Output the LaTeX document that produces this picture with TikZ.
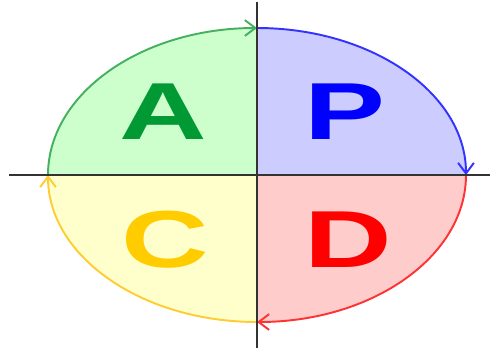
\documentclass[tikz,border=0pt]{standalone}
\usepackage{fontspec}
\usepackage{graphicx}
\setsansfont{Liberation Sans}
\usetikzlibrary{arrows.meta}
\definecolor{ActFill}{HTML}{CCFFCC}
\definecolor{ActLine}{HTML}{44B060}
\definecolor{ActText}{HTML}{009933}
\definecolor{PlanFill}{HTML}{CCCCFF}
\definecolor{PlanLine}{HTML}{3333FF}
\definecolor{PlanText}{HTML}{0000FF}
\definecolor{DoFill}{HTML}{FFCCCC}
\definecolor{DoLine}{HTML}{FF3333}
\definecolor{DoText}{HTML}{FF0000}
\definecolor{CheckFill}{HTML}{FFFFCC}
\definecolor{CheckLine}{HTML}{FFCC33}
\definecolor{CheckText}{HTML}{FFCC00}
\definecolor{AxisGray}{HTML}{333333}

\begin{document}
\begin{tikzpicture}[
    turn/.style={line width=1.1pt,-{Straight Barb[length=6pt,width=9pt]}},
    axis/.style={draw=AxisGray,line width=1.7pt},
    letter/.style={font=\sffamily\bfseries\fontsize{46}{46}\selectfont},
    rim/.style={x radius=4.18cm,y radius=2.94cm}
  ]
  \useasboundingbox (0,0) rectangle (9.86,7);
  \coordinate (o) at (5.14,3.5);
  \coordinate (east) at (9.32,3.5);
  \coordinate (north) at (5.14,6.44);
  \coordinate (west) at (0.96,3.5);
  \coordinate (south) at (5.14,0.56);
  \coordinate (axleft) at (0.18,3.5);
  \coordinate (axright) at (9.8,3.5);
  \coordinate (axtop) at (5.14,6.96);
  \coordinate (axbottom) at (5.14,0.04);

  % quarters
  \fill[ActFill] (o) -- (west) arc[rim,start angle=180,end angle=90] -- cycle;
  \fill[PlanFill] (o) -- (north) arc[rim,start angle=90,end angle=0] -- cycle;
  \fill[DoFill] (o) -- (east) arc[rim,start angle=360,end angle=270] -- cycle;
  \fill[CheckFill] (o) -- (south) arc[rim,start angle=270,end angle=180] -- cycle;

  % cycle
  \draw[turn,draw=ActLine] (west) arc[rim,start angle=180,end angle=90];
  \draw[turn,draw=PlanLine] (north) arc[rim,start angle=90,end angle=0];
  \draw[turn,draw=DoLine] (east) arc[rim,start angle=360,end angle=270];
  \draw[turn,draw=CheckLine] (south) arc[rim,start angle=270,end angle=180];

  \draw[axis] (axleft) -- (axright);
  \draw[axis] (axbottom) -- (axtop);

  \node[letter,text=ActText] (act) at (3.26,4.76) {\scalebox{1.5}[1]{A}};
  \node[letter,text=PlanText] (plan) at (6.9,4.76) {\scalebox{1.5}[1]{P}};
  \node[letter,text=CheckText] (check) at (3.3,2.2) {\scalebox{1.5}[1]{C}};
  \node[letter,text=DoText] (do) at (6.96,2.2) {\scalebox{1.5}[1]{D}};
\end{tikzpicture}
\end{document}
